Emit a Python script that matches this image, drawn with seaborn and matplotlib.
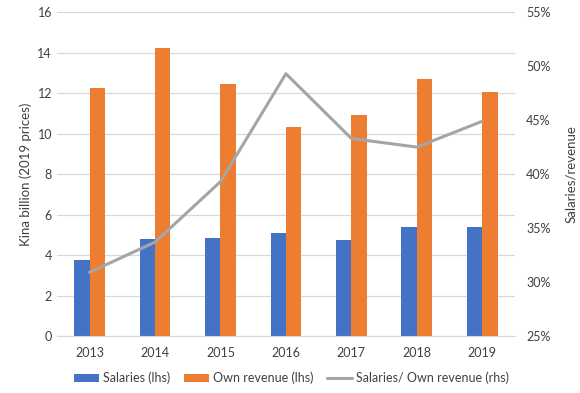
import pandas as pd, numpy as np
import seaborn as sns
import matplotlib.pyplot as plt
from matplotlib.ticker import PercentFormatter

years = ['2013', '2014', '2015', '2016', '2017', '2018', '2019']
salaries = [3.77, 4.77, 4.84, 5.10, 4.74, 5.40, 5.40]
own_revenue = [12.25, 14.24, 12.43, 10.34, 10.93, 12.69, 12.08]
ratio = [30.9, 33.7, 39.3, 49.3, 43.3, 42.5, 44.9]

BLUE = '#4472C4'
ORANGE = '#ED7D31'
GREY = '#A5A5A5'
GRID = '#D9D9D9'
TXT = '#404040'

sns.set_style('white')
plt.rcParams['font.family'] = ['Lato', 'DejaVu Sans']
plt.rcParams['font.size'] = 9

df = pd.DataFrame({
    'year': years * 2,
    'value': salaries + own_revenue,
    'series': ['Salaries (lhs)'] * len(years) + ['Own revenue (lhs)'] * len(years),
})

fig = plt.figure(figsize=(5.8, 3.93), dpi=100)
ax1 = fig.add_axes([0.098, 0.145, 0.79, 0.824])

sns.barplot(ax=ax1, data=df, x='year', y='value', hue='series',
            palette=[BLUE, ORANGE], width=0.47, gap=0, saturation=1,
            linewidth=0, edgecolor='none')
ax1.set_ylim(0, 16)
ax1.set_yticks(range(0, 17, 2))
ax1.yaxis.grid(True, color=GRID, linewidth=0.9)
ax1.set_axisbelow(True)
ax1.set_xlabel('')
ax1.set_ylabel('Kina billion (2019 prices)', color=TXT, fontsize=9.5)
ax1.tick_params(axis='both', length=0, colors=TXT, labelsize=9)
ax1.tick_params(axis='x', pad=8)
ax1.get_legend().remove()

ax2 = ax1.twinx()
sns.pointplot(ax=ax2, x=years, y=ratio, color=GREY, marker='', linewidth=2.2,
              label='Salaries/ Own revenue (rhs)')
ax2.set_ylim(25, 55)
ax2.set_yticks(range(25, 56, 5))
ax2.yaxis.set_major_formatter(PercentFormatter(decimals=0))
ax2.set_ylabel('Salaries/revenue', color=TXT, fontsize=9.5, labelpad=10)
ax2.tick_params(axis='y', length=0, colors=TXT, labelsize=9, pad=8)
if ax2.get_legend():
    ax2.get_legend().remove()

for ax in (ax1, ax2):
    for s in ax.spines.values():
        s.set_visible(False)
ax1.spines['bottom'].set_visible(True)
ax1.spines['bottom'].set_color(GRID)
ax1.set_xlim(-0.5, len(years) - 0.5)

h1, l1 = ax1.get_legend_handles_labels()
h2, l2 = ax2.get_legend_handles_labels()
fig.legend(h1 + h2, l1 + l2, loc='center', bbox_to_anchor=(0.503, 0.038), ncol=3,
           frameon=False, fontsize=9, handlelength=2.0, handleheight=0.55,
           columnspacing=1.1, handletextpad=0.3, labelcolor=TXT)

fig.savefig('out.png', dpi=100)
